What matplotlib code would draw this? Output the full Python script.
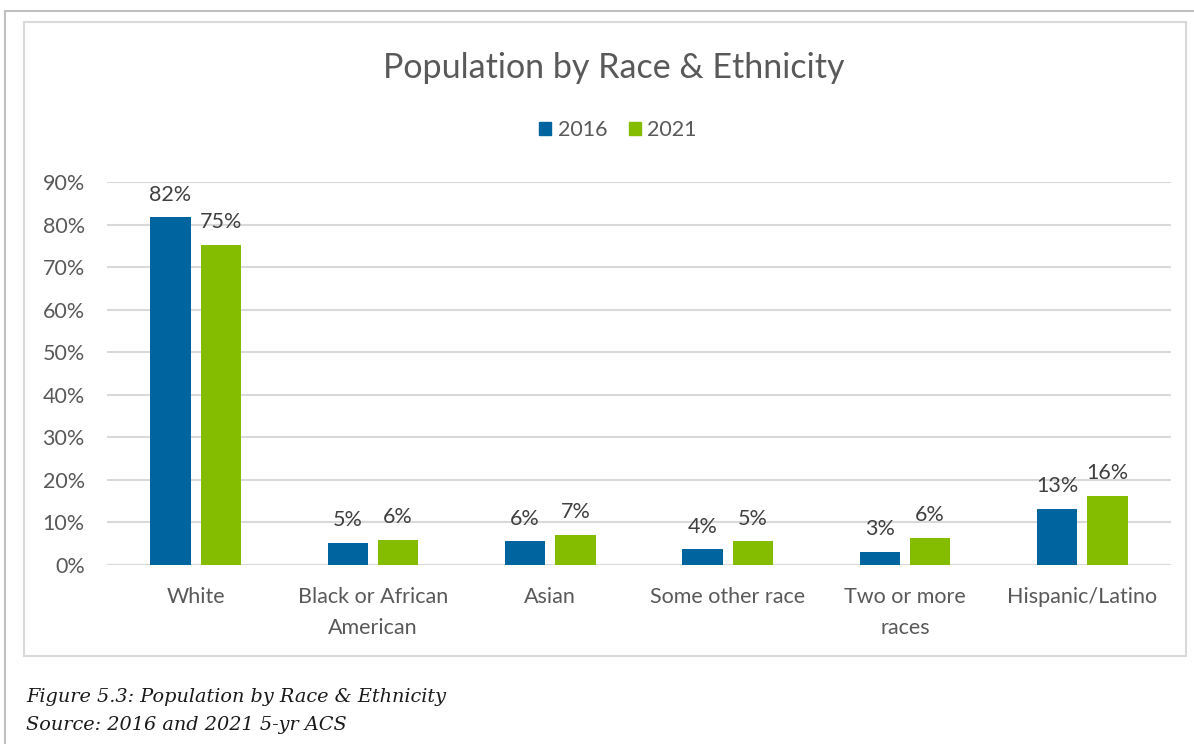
import matplotlib
matplotlib.use("Agg")
import matplotlib.pyplot as plt
from matplotlib.patches import Rectangle
from matplotlib.lines import Line2D
import numpy as np

categories = ["White", "Black or African\nAmerican", "Asian", "Some other race",
              "Two or more\nraces", "Hispanic/Latino"]
values_2016 = [0.817, 0.052, 0.056, 0.037, 0.031, 0.132]
values_2021 = [0.752, 0.059, 0.071, 0.056, 0.064, 0.163]
labels_2016 = ["82%", "5%", "6%", "4%", "3%", "13%"]
labels_2021 = ["75%", "6%", "7%", "5%", "6%", "16%"]
series_names = ["2016", "2021"]
yticks = [0, 0.1, 0.2, 0.3, 0.4, 0.5, 0.6, 0.7, 0.8, 0.9]
ytick_labels = ["0%", "10%", "20%", "30%", "40%", "50%", "60%", "70%", "80%", "90%"]

BLUE = "#00659e"
GREEN = "#84bd00"
TXT = "#595959"
GRID = "#d9d9d9"
FONT = "Lato"

W, H = 1194, 744
fig = plt.figure(figsize=(W / 100, H / 100), dpi=100)
fig.patch.set_facecolor("white")

def px(x, y):
    return x / W, 1 - y / H

# outer border lines
fig.add_artist(Line2D([5 / W, 5 / W], [0, 1 - 11 / H], transform=fig.transFigure, color="#c0c0c0", lw=1.5))
fig.add_artist(Line2D([5 / W, 1], [1 - 11 / H, 1 - 11 / H], transform=fig.transFigure, color="#c0c0c0", lw=1.5))
# inner chart box
fig.add_artist(Rectangle((24 / W, 1 - 656 / H), (1186 - 24) / W, (656 - 22) / H,
                         transform=fig.transFigure, fill=False, edgecolor=GRID, lw=1.5))

left, right, top, bottom = 107, 1171, 182, 565
ax = fig.add_axes([left / W, 1 - bottom / H, (right - left) / W, (bottom - top) / H])
ax.set_facecolor("none")

x = np.arange(len(categories))
bw = 0.226
off = 0.142
b1 = ax.bar(x - off, values_2016, bw, color=BLUE, zorder=3)
b2 = ax.bar(x + off, values_2021, bw, color=GREEN, zorder=3)

for bars, labs in ((b1, labels_2016), (b2, labels_2021)):
    for r, lab in zip(bars, labs):
        ax.annotate(lab, (r.get_x() + r.get_width() / 2, r.get_height()),
                    xytext=(0, 9), textcoords="offset points", ha="center", va="bottom",
                    fontsize=15.5, color="#404040", family=FONT)

ax.set_xlim(-0.5, len(categories) - 0.5)
ax.set_ylim(0, 0.9)
ax.set_yticks(yticks)
ax.set_yticklabels(ytick_labels, fontsize=15.5, color=TXT, family=FONT)
ax.set_xticks(x)
ax.set_xticklabels(categories, fontsize=15.5, color=TXT, family=FONT, linespacing=1.7)
ax.tick_params(axis="y", length=0, pad=16)
ax.tick_params(axis="x", length=0, pad=16)
ax.grid(axis="y", color=GRID, lw=1.5, zorder=0)
for s in ax.spines.values():
    s.set_visible(False)
ax.axhline(0, color=GRID, lw=1.5, zorder=2)

# title
fig.text(*px(614, 68), "Population by Race & Ethnicity", ha="center", va="center",
         fontsize=24.5, color=TXT, family=FONT)

# legend
ax.legend([Rectangle((0, 0), 1, 1, color=BLUE), Rectangle((0, 0), 1, 1, color=GREEN)],
          series_names, loc="center", bbox_to_anchor=px(618, 130), bbox_transform=fig.transFigure,
          ncol=2, frameon=False, prop={"family": FONT, "size": 15.5}, labelcolor=TXT,
          handlelength=0.55, handleheight=0.55, handletextpad=0.3, columnspacing=1.0)

# caption
fig.text(*px(26, 697), "Figure 5.3: Population by Race & Ethnicity", ha="left", va="center",
         fontsize=13.9, style="italic", family="DejaVu Serif", color="#1a1a1a")
fig.text(*px(26, 725), "Source: 2016 and 2021 5-yr ACS", ha="left", va="center",
         fontsize=13.9, style="italic", family="DejaVu Serif", color="#1a1a1a")

fig.savefig("out.png", dpi=100, facecolor="white")
